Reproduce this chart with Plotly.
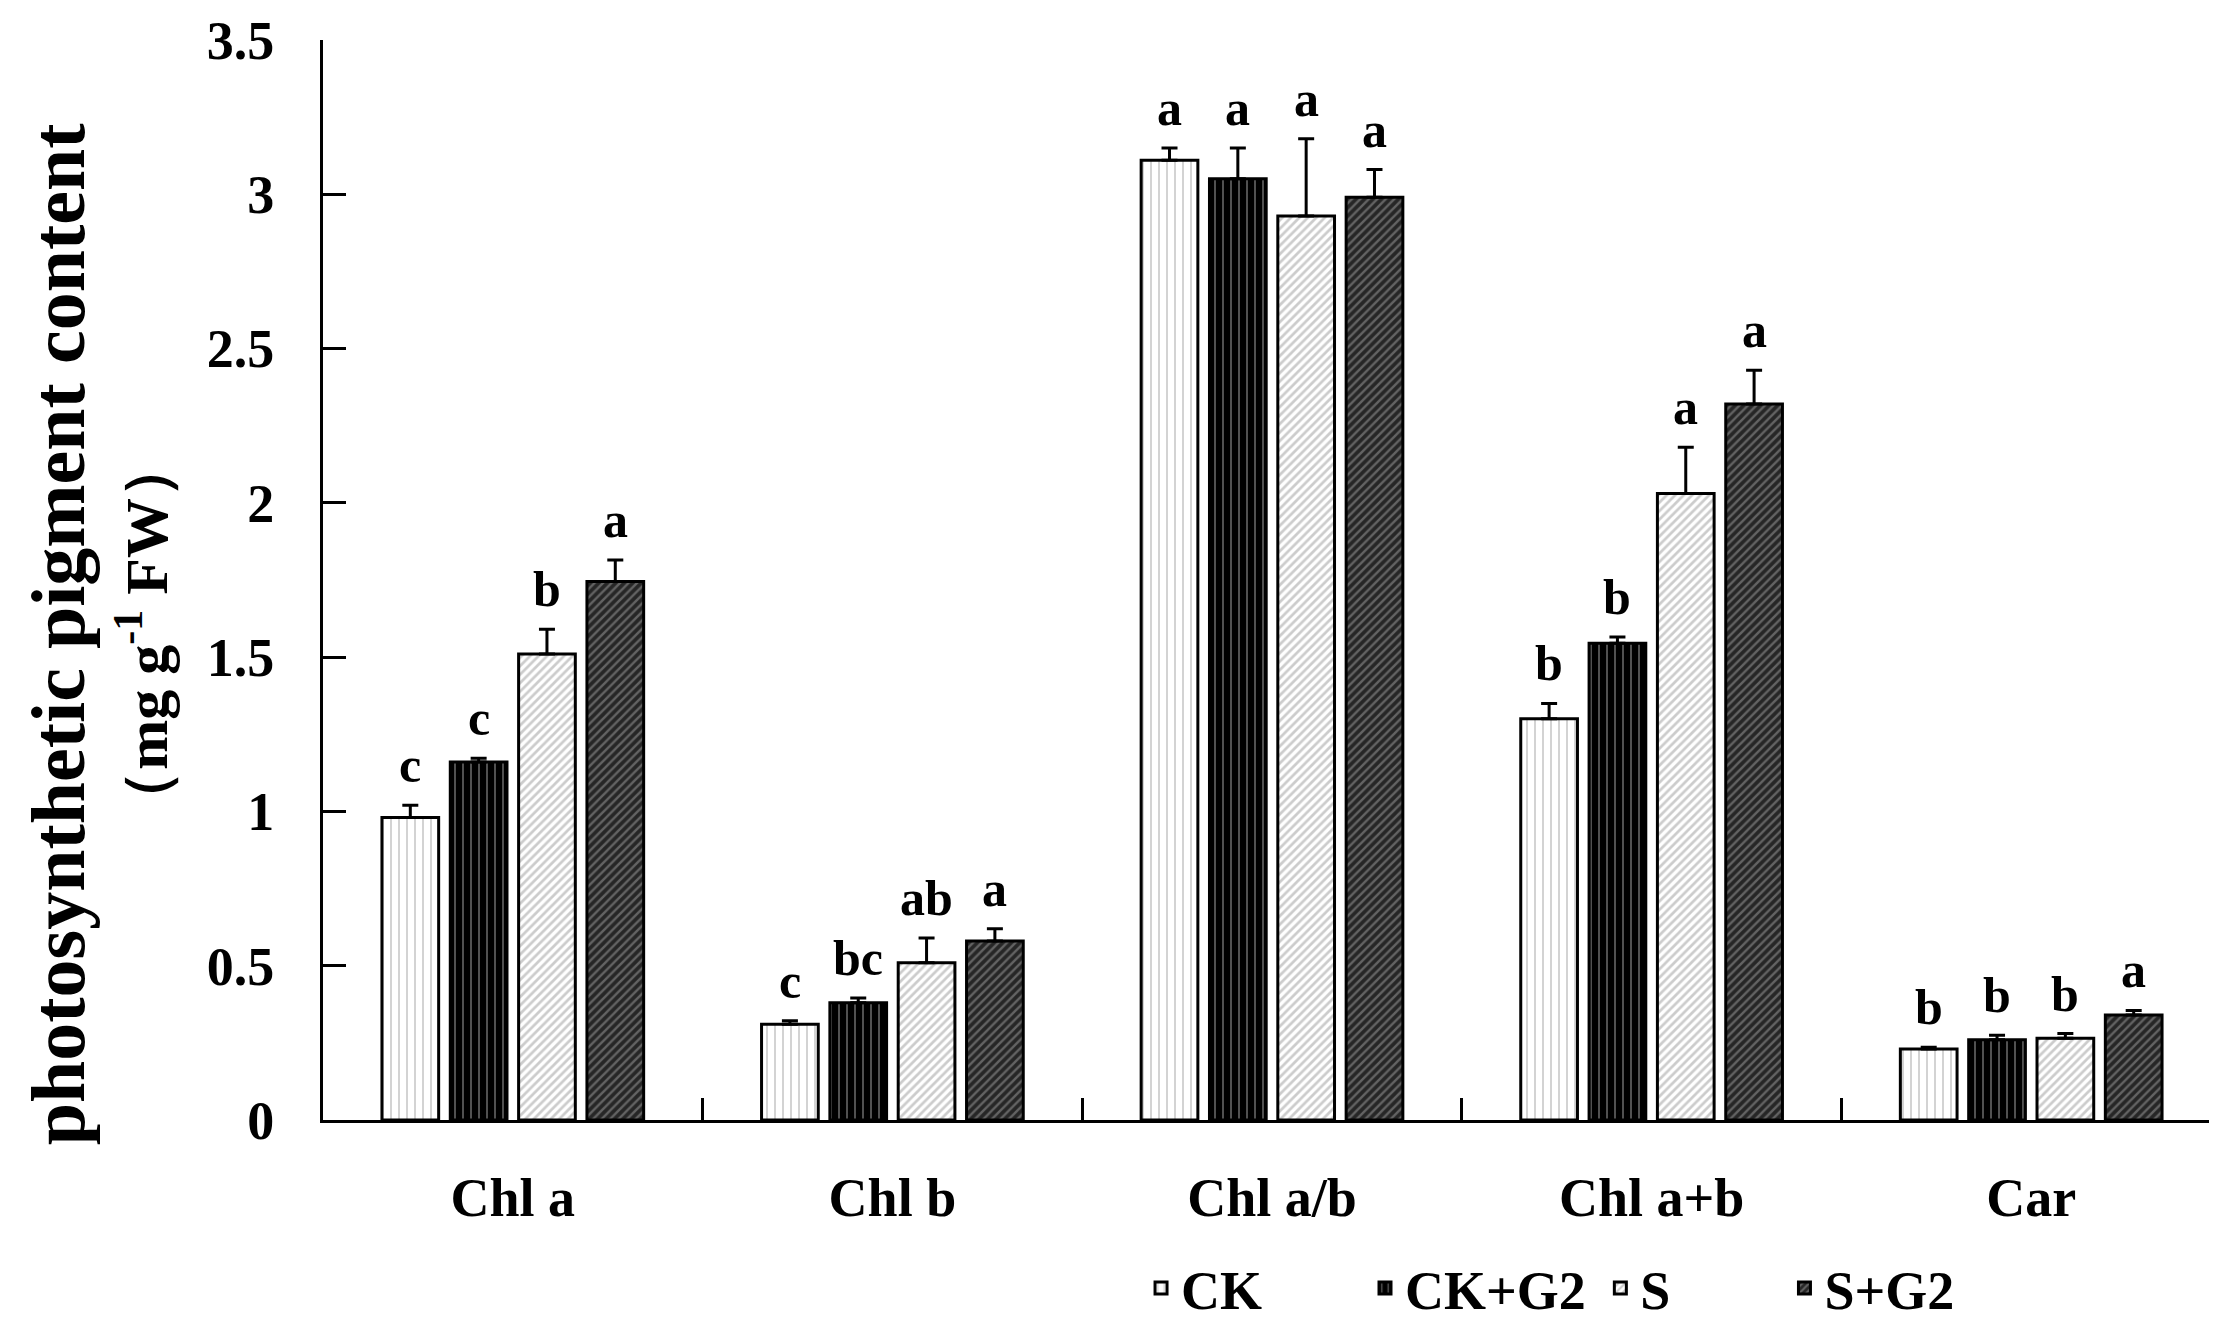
import plotly.graph_objects as go

categories = ['Chl a', 'Chl b', 'Chl a/b', 'Chl a+b', 'Car']
groups = ['CK', 'CK+G2', 'S', 'S+G2']

ck = [0.98, 0.31, 3.11, 1.30, 0.23]
ck_g2 = [1.16, 0.38, 3.05, 1.545, 0.26]
s = [1.51, 0.51, 2.93, 2.03, 0.265]
s_g2 = [1.745, 0.58, 2.99, 2.32, 0.34]

ck_err = [0.04, 0.012, 0.04, 0.05, 0.006]
ck_g2_err = [0.012, 0.015, 0.10, 0.02, 0.015]
s_err = [0.08, 0.08, 0.25, 0.15, 0.015]
s_g2_err = [0.07, 0.04, 0.09, 0.11, 0.015]

ck_sig = ['c', 'c', 'a', 'b', 'b']
ck_g2_sig = ['c', 'bc', 'a', 'b', 'b']
s_sig = ['b', 'ab', 'a', 'a', 'b']
s_g2_sig = ['a', 'a', 'a', 'a', 'a']

yticks = [0, 0.5, 1, 1.5, 2, 2.5, 3, 3.5]
ytick_labels = ['0', '0.5', '1', '1.5', '2', '2.5', '3', '3.5']

values = [ck, ck_g2, s, s_g2]
errors = [ck_err, ck_g2_err, s_err, s_g2_err]
letters = [ck_sig, ck_g2_sig, s_sig, s_g2_sig]

patterns = [
    dict(shape='|', bgcolor='white', fgcolor='#a8a8a8', size=8, solidity=0.25),
    dict(shape='|', bgcolor='black', fgcolor='#b8b8b8', size=8, solidity=0.22),
    dict(shape='/', bgcolor='white', fgcolor='#9a9a9a', size=6, solidity=0.45),
    dict(shape='/', bgcolor='#262626', fgcolor='#a0a0a0', size=6, solidity=0.4),
]

FONT = 'Liberation Serif'
legend_ids = ['legend', 'legend2', 'legend3', 'legend4']
legend_x = [0.431, 0.549, 0.673, 0.770]

fig = go.Figure()
for name, vals, err, pat, lg in zip(groups, values, errors, patterns, legend_ids):
    fig.add_trace(go.Bar(
        x=categories, y=vals, name='<b>%s</b>' % name, legend=lg, showlegend=True,
        marker=dict(color=pat['bgcolor'], pattern=pat,
                    line=dict(color='black', width=3)),
        error_y=dict(type='data', array=err, arrayminus=[0] * len(err),
                     symmetric=False, color='black', thickness=3, width=8),
    ))

# significance letters above the error bars
n = len(groups)
step = 0.18
annotations = []
for i in range(n):
    offset = (i - (n - 1) / 2) * step
    for j in range(len(categories)):
        annotations.append(dict(
            x=j + offset, y=values[i][j] + errors[i][j], xref='x', yref='y',
            text='<b>%s</b>' % letters[i][j], showarrow=False,
            yanchor='bottom', yshift=10,
            font=dict(family=FONT, size=50, color='black')))

annotations.append(dict(
    x=-0.1395, y=0.45, xref='paper', yref='paper', textangle=-90,
    text='<b>photosynthetic pigment content</b>', showarrow=False,
    xanchor='center', yanchor='middle',
    font=dict(family=FONT, size=76, color='black')))
annotations.append(dict(
    x=-0.0955, y=0.45, xref='paper', yref='paper', textangle=-90,
    text='<b>（mg g<sup>-1</sup> FW）</b>', showarrow=False,
    xanchor='center', yanchor='middle',
    font=dict(family=FONT, size=60, color='black')))

legend_style = dict(orientation='h', y=-0.156, xanchor='left', yanchor='middle',
                    font=dict(family=FONT, size=54, color='black'),
                    bgcolor='rgba(0,0,0,0)')

fig.update_layout(
    width=2217, height=1327,
    margin=dict(l=315, r=4, t=32, b=199),
    paper_bgcolor='white', plot_bgcolor='white',
    barmode='group', bargap=0.28, bargroupgap=0.17,
    font=dict(family=FONT, color='black'),
    annotations=annotations,
    showlegend=True,
    legend=dict(x=legend_x[0], **legend_style),
    legend2=dict(x=legend_x[1], **legend_style),
    legend3=dict(x=legend_x[2], **legend_style),
    legend4=dict(x=legend_x[3], **legend_style),
)

fig.update_xaxes(
    range=[-0.5, 4.5], showline=True, linecolor='black', linewidth=3,
    ticks='inside', tickson='boundaries', ticklen=22, tickwidth=3, tickcolor='black',
    ticklabelstandoff=28, showgrid=False, automargin=False,
    tickfont=dict(family=FONT, size=54, color='black'),
    tickvals=categories, ticktext=['<b>%s</b>' % c for c in categories],
)
fig.update_yaxes(
    range=[0, 3.5], showline=True, linecolor='black', linewidth=3,
    ticks='inside', ticklen=23, tickwidth=3, tickcolor='black',
    tickvals=yticks, ticktext=['<b>%s</b>' % t for t in ytick_labels],
    ticklabelstandoff=35, ticklabeloverflow='allow', showgrid=False, zeroline=False,
    automargin=False,
    tickfont=dict(family=FONT, size=54, color='black'),
)

fig.write_html("out.html")
